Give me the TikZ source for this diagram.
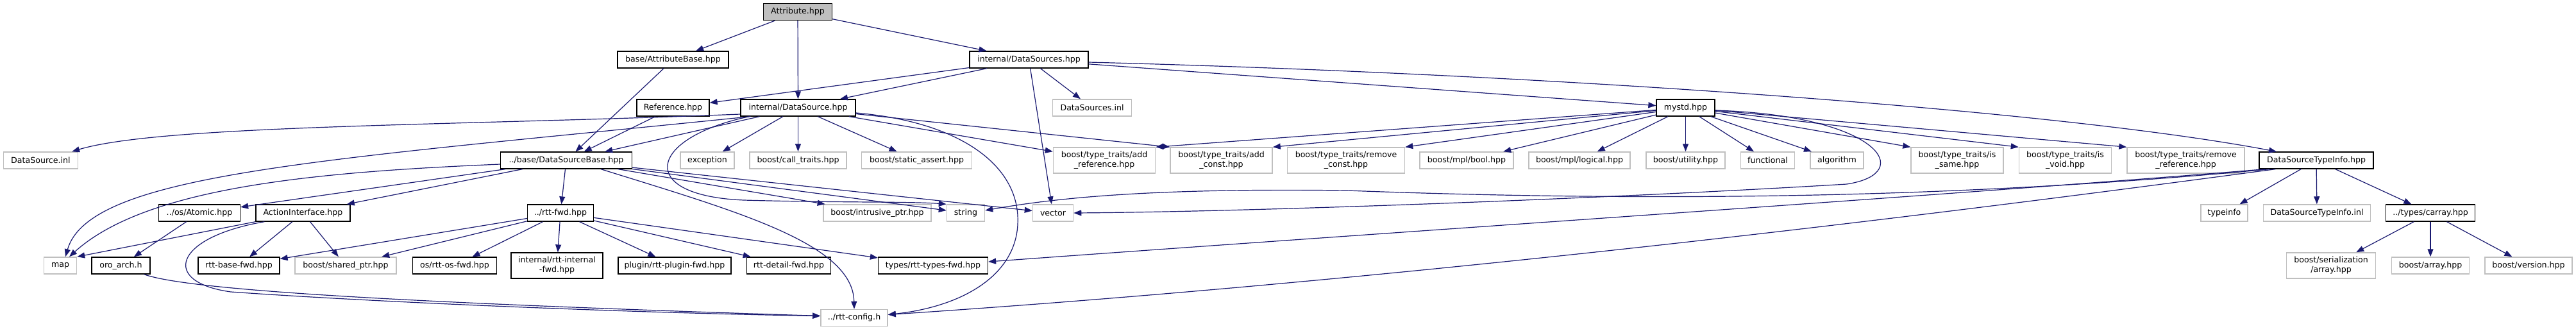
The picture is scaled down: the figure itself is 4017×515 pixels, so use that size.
\documentclass[tikz,border=0pt]{standalone}
\usepackage{fontspec}
\setmainfont{DejaVu Sans}
\usetikzlibrary{arrows.meta}
\definecolor{edgecol}{HTML}{191970}
\definecolor{gborder}{HTML}{BFBFBF}
\definecolor{attrfill}{HTML}{BFBFBF}
\newcommand\nodefont{\fontsize{12.6}{15}\selectfont}
\tikzset{
  box/.style={rectangle, inner sep=0pt, minimum height=26pt, font=\nodefont, text=black},
  doc/.style={box, draw=black, line width=1.3pt},
  ext/.style={box, draw=gborder, line width=1.5pt},
  two/.style={minimum height=40pt, align=center},
  edge/.style={draw=edgecol, line width=1.2pt, -{Triangle[length=12pt,width=9pt]}}
}
\begin{document}
\begin{tikzpicture}[x=1pt,y=-1pt]
\useasboundingbox (0,0) rectangle (4017,515);
% row 0
\node[doc, fill=attrfill, minimum width=107pt] (attr) at (1244,18.5) {Attribute.hpp};
% row 1
\node[doc, minimum width=173pt] (attrbase) at (1049.5,93) {base/AttributeBase.hpp};
\node[doc, minimum width=185pt] (dss) at (1604.5,93) {internal/DataSources.hpp};
% row 2
\node[doc, minimum width=113pt] (ref) at (1049.5,168) {Reference.hpp};
\node[doc, minimum width=179pt] (ds) at (1244.5,168) {internal/DataSource.hpp};
\node[ext, minimum width=123pt] (dssinl) at (1703,168) {DataSources.inl};
\node[doc, minimum width=91pt] (mystd) at (2628.5,168) {mystd.hpp};
% row 3
\node[ext, minimum width=116pt] (dsinl) at (63.4,250) {DataSource.inl};
\node[doc, minimum width=205pt] (dsb) at (883,250) {../base/DataSourceBase.hpp};
\node[ext, minimum width=84pt] (exc) at (1103,250) {exception};
\node[ext, minimum width=151pt] (calltr) at (1244.5,250) {boost/call\_traits.hpp};
\node[ext, minimum width=172pt] (stass) at (1429.6,250) {boost/static\_assert.hpp};
\node[ext, two, minimum width=159pt] (addref) at (1722,250) {boost/type\_traits/add\\\_reference.hpp};
\node[ext, two, minimum width=159pt] (addconst) at (1904.5,250) {boost/type\_traits/add\\\_const.hpp};
\node[ext, two, minimum width=183pt] (remconst) at (2099,250) {boost/type\_traits/remove\\\_const.hpp};
\node[ext, minimum width=146pt] (mplbool) at (2287,250) {boost/mpl/bool.hpp};
\node[ext, minimum width=158pt] (logical) at (2463,250) {boost/mpl/logical.hpp};
\node[ext, minimum width=123pt] (utility) at (2628.5,250) {boost/utility.hpp};
\node[ext, minimum width=84pt] (functional) at (2756.5,250) {functional};
\node[ext, minimum width=83pt] (algorithm) at (2864.5,250) {algorithm};
\node[ext, two, minimum width=144pt] (issame) at (3052,250) {boost/type\_traits/is\\\_same.hpp};
\node[ext, two, minimum width=144pt] (isvoid) at (3220.5,250) {boost/type\_traits/is\\\_void.hpp};
\node[ext, two, minimum width=183pt] (remref) at (3408.5,250) {boost/type\_traits/remove\\\_reference.hpp};
\node[doc, minimum width=178pt] (dsti) at (3612,250) {DataSourceTypeInfo.hpp};
% row 4
\node[doc, minimum width=127pt] (atomic) at (311,332) {../os/Atomic.hpp};
\node[doc, minimum width=147pt] (actif) at (472.5,332) {ActionInterface.hpp};
\node[doc, minimum width=103pt] (rttfwd) at (874,332) {../rtt-fwd.hpp};
\node[ext, minimum width=168pt] (intr) at (1368,332) {boost/intrusive\_ptr.hpp};
\node[ext, minimum width=59pt] (string) at (1506,332) {string};
\node[ext, minimum width=63pt] (vector) at (1642,332) {vector};
\node[ext, minimum width=73pt] (typeinfo) at (3468.5,332) {typeinfo};
\node[ext, minimum width=167pt] (dstiinl) at (3613,332) {DataSourceTypeInfo.inl};
\node[doc, minimum width=139pt] (carray) at (3790,332) {../types/carray.hpp};
% row 5
\node[ext, minimum width=51pt] (map) at (94,414) {map};
\node[doc, minimum width=91pt] (oroarch) at (188.4,414) {oro\_arch.h};
\node[doc, minimum width=127pt] (basefwd) at (372.5,414) {rtt-base-fwd.hpp};
\node[ext, minimum width=158pt] (sharedptr) at (539,414) {boost/shared\_ptr.hpp};
\node[doc, minimum width=131pt] (osfwd) at (709,414) {os/rtt-os-fwd.hpp};
\node[doc, two, minimum width=143pt] (internalfwd) at (868.5,414) {internal/rtt-internal\\-fwd.hpp};
\node[doc, minimum width=176pt] (pluginfwd) at (1052,414) {plugin/rtt-plugin-fwd.hpp};
\node[doc, minimum width=131pt] (detailfwd) at (1230,414) {rtt-detail-fwd.hpp};
\node[doc, minimum width=171pt] (typesfwd) at (1455,414) {types/rtt-types-fwd.hpp};
\node[ext, two, minimum width=139pt] (serarray) at (3635,414) {boost/serialization\\/array.hpp};
\node[ext, minimum width=121pt] (barray) at (3790,414) {boost/array.hpp};
\node[ext, minimum width=136pt] (version) at (3943,414) {boost/version.hpp};
% row 6
\node[ext, minimum width=104pt] (rttconfig) at (1332,495.5) {../rtt-config.h};

% ---- edges ----
\draw[edge] (attr) -- (attrbase);
\draw[edge] (attr) -- (ds);
\draw[edge] (attr) -- (dss);
\draw[edge] (attrbase) -- (dsb);
\draw[edge] (dss) -- (ref);
\draw[edge] (dss) -- (ds);
\draw[edge] (dss) -- (dssinl);
\draw[edge] (dss) -- (vector);
\draw[edge] (dss) -- (mystd);
\draw[edge] ([yshift=-4pt]dss.east) .. controls (2400,115) and (3200,170) .. ([xshift=-62pt]dsti.north);
\draw[edge] (ref) -- (dsb);
% DataSource.hpp
\draw[edge] (ds) -- (dsb);
\draw[edge] ([yshift=-10pt]ds.west) .. controls (700,196) and (250,195) .. ([xshift=-10pt]dsinl.north east);
\draw[edge] ([xshift=16pt]ds.south west) .. controls (500,250) and (140,270) .. ([xshift=8pt]map.north);
\draw[edge] ([xshift=14pt]ds.south west) .. controls (1010,215) and (990,305) .. (1160,312) .. controls (1300,316) and (1420,314) .. (string.north west);
\draw[edge] (ds) -- (exc);
\draw[edge] (ds) -- (calltr);
\draw[edge] (ds) -- (stass);
\draw[edge] (ds) -- (addref);
\draw[edge] (ds) -- (addconst.north west);
\draw[edge] ([yshift=-8pt]ds.east) .. controls (1500,190) and (1592,260) .. (1587,350) .. controls (1583,430) and (1500,478) .. ([yshift=5pt]rttconfig.east);
% DataSourceBase.hpp
\draw[edge] ([yshift=-6pt]dsb.west) .. controls (500,268) and (230,290) .. ([xshift=14pt]map.north);
\draw[edge] (dsb) -- (atomic);
\draw[edge] (dsb) -- (actif);
\draw[edge] (dsb) -- (rttfwd);
\draw[edge] (dsb) -- (intr);
\draw[edge] (dsb) -- (string);
\draw[edge] (dsb) -- (vector);
\draw[edge] ([xshift=54pt]dsb.south) .. controls (1150,330) and (1330,380) .. (rttconfig.north);
% mystd.hpp
\draw[edge] (mystd) -- (addref.north east);
\draw[edge] (mystd) -- (addconst.north east);
\draw[edge] (mystd) -- (remconst.north east);
\draw[edge] (mystd) -- (mplbool);
\draw[edge] (mystd) -- (logical);
\draw[edge] (mystd) -- (utility);
\draw[edge] (mystd) -- (functional);
\draw[edge] (mystd) -- (algorithm);
\draw[edge] (mystd) -- (issame.north west);
\draw[edge] (mystd) -- (isvoid.north west);
\draw[edge] (mystd) -- (remref.north west);
\draw[edge] ([yshift=-4pt]mystd.east) .. controls (2930,180) and (2990,270) .. (2880,287) .. controls (2500,310) and (1950,330) .. (vector.east);
% DataSourceTypeInfo.hpp
\draw[edge] ([xshift=17pt]dsti.south west) .. controls (3000,315) and (2500,312) .. (2100,297) .. controls (1800,293) and (1650,308) .. ([yshift=4pt]string.east);
\draw[edge] ([xshift=10pt]dsti.south west) .. controls (3100,300) and (2200,360) .. ([yshift=6pt]typesfwd.east);
\draw[edge] ([xshift=26pt]dsti.south west) .. controls (3200,310) and (2300,430) .. ([yshift=5pt]rttconfig.east);
\draw[edge] (dsti) -- (typeinfo);
\draw[edge] (dsti) -- (dstiinl);
\draw[edge] (dsti) -- (carray);
\draw[edge] (carray) -- (serarray);
\draw[edge] (carray) -- (barray);
\draw[edge] (carray) -- (version);
% Atomic, oro_arch, ActionInterface
\draw[edge] (atomic) -- (oroarch);
\draw[edge] ([xshift=-10pt]oroarch.south east) .. controls (300,455) and (700,474) .. ([yshift=3pt]rttconfig.west);
\draw[edge] (actif.south west) -- (map.north east);
\draw[edge] (actif) -- (basefwd);
\draw[edge] (actif) -- (sharedptr);
\draw[edge] ([xshift=14pt]actif.south west) .. controls (270,370) and (250,440) .. (360,455) .. controls (600,472) and (1000,488) .. ([yshift=3pt]rttconfig.west);
% rtt-fwd.hpp
\draw[edge] (rttfwd) -- (basefwd);
\draw[edge] (rttfwd) -- (sharedptr);
\draw[edge] (rttfwd) -- (osfwd);
\draw[edge] (rttfwd) -- (internalfwd);
\draw[edge] (rttfwd) -- (pluginfwd);
\draw[edge] (rttfwd) -- (detailfwd);
\draw[edge] (rttfwd) -- (typesfwd);
\end{tikzpicture}
\end{document}
